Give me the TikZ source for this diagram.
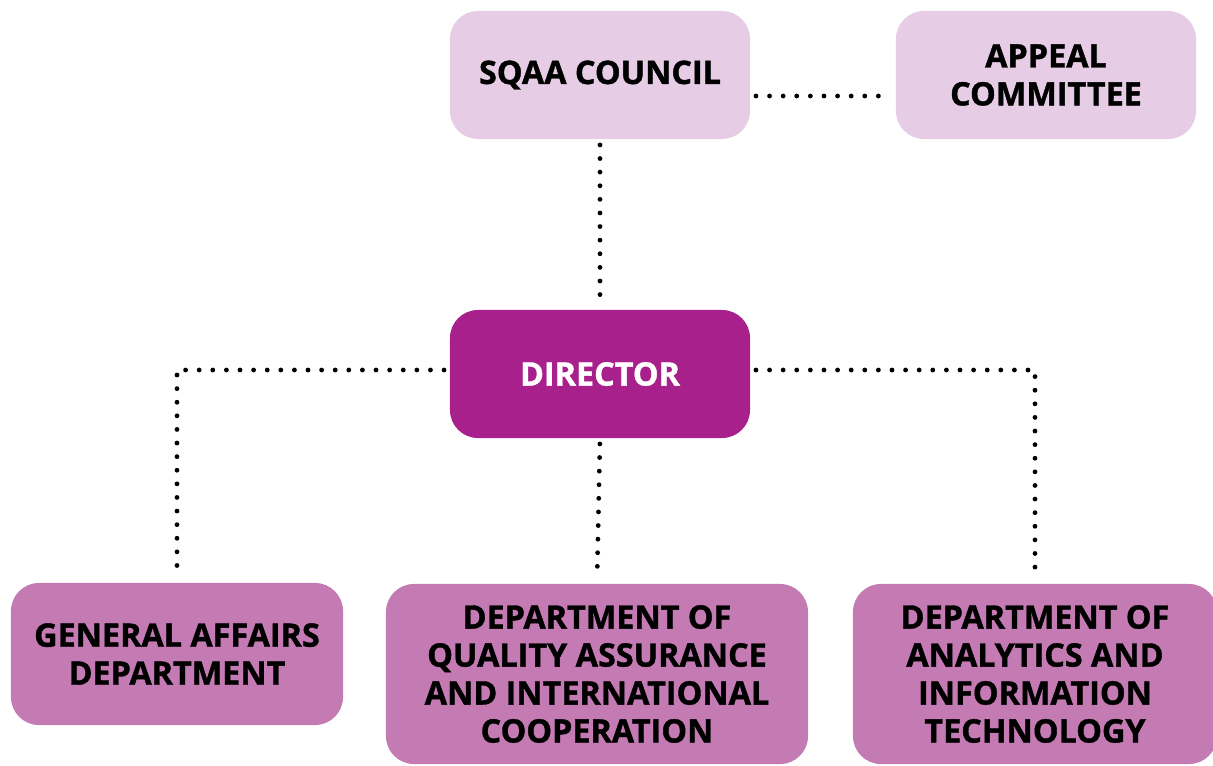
\documentclass[tikz,border=0pt]{standalone}
\usepackage{fontspec}
\setmainfont{Open Sans}[BoldFeatures={FakeBold=1.2}]
\usepackage{xcolor}
\usepackage{tikz}
\usetikzlibrary{calc,positioning}
\definecolor{boardPink}{HTML}{E6CCE4}
\definecolor{headPurple}{HTML}{A8208B}
\definecolor{deptPink}{HTML}{C47AB2}

\begin{document}
\begin{tikzpicture}[
  x=0.025cm, y=-0.025cm,
  every node/.style={font=\fontsize{23}{27}\selectfont\bfseries},
  unit/.style={rounded corners=0.7cm, align=center, inner sep=0pt},
  board/.style={unit, fill=boardPink, minimum width=7.5cm, minimum height=3.2cm},
  head/.style={unit, fill=headPurple, text=white, minimum width=7.5cm, minimum height=3.2cm},
  dept/.style={unit, fill=deptPink, minimum height=3.5cm},
  dotlink/.style={line width=0.12cm, line cap=round, dash pattern=on 0cm off 0.34cm,
    shorten >=4pt, shorten <=4pt},
]
\useasboundingbox (0,0) rectangle (1213,765);

% Top level
\node[board] (council) at (600,75) {SQAA COUNCIL};
\node[board] (appeal) at (1046,75) {APPEAL\\COMMITTEE};

% Director
\node[head] (director) at (600,374) {DIRECTOR};

% Departments
\node[dept, minimum width=8.3cm, minimum height=3.55cm] (general) at (177,654)
  {GENERAL AFFAIRS\\DEPARTMENT};
\node[dept, minimum width=10.55cm, minimum height=4.5cm] (quality) at (597,674)
  {DEPARTMENT OF\\QUALITY ASSURANCE\\AND INTERNATIONAL\\COOPERATION};
\node[dept, minimum width=9.1cm, minimum height=4.5cm] (analytics) at (1035,674)
  {DEPARTMENT OF\\ANALYTICS AND\\INFORMATION\\TECHNOLOGY};

% Dotted links
\draw[dotlink] ($(council.east)+(0,21)$) -- ($(council.east -| appeal.west)+(0,21)$);
\draw[dotlink] (council.south) -- (director.north);
\draw[dotlink] ($(director.west)+(0,-4)$) -| (general.north);
\draw[dotlink] ($(director.east)+(0,-4)$) -| (analytics.north);
\draw[dotlink] (director.south) -- (quality.north);

\end{tikzpicture}
\end{document}
